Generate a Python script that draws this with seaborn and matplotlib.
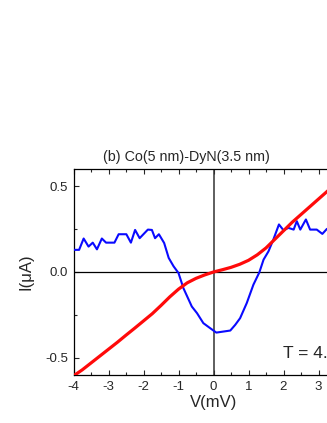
import matplotlib
matplotlib.use("Agg")
import matplotlib.pyplot as plt
import seaborn as sns
import pandas as pd
from matplotlib.ticker import MultipleLocator

# Red I-V curve
red_v = [-4.0, -3.75, -3.5, -3.25, -3.0, -2.75, -2.5, -2.25, -2.0, -1.75, -1.5, -1.25,
         -1.0, -0.75, -0.5, -0.25, 0.0, 0.25, 0.5, 0.75, 1.0, 1.25, 1.5, 1.75, 2.0,
         2.25, 2.5, 2.75, 3.0, 3.25, 3.5, 3.75, 4.0]
red_i = [-0.605, -0.57, -0.53, -0.49, -0.45, -0.41, -0.368, -0.327, -0.285, -0.243, -0.195, -0.145,
         -0.10, -0.063, -0.037, -0.017, 0.0, 0.013, 0.027, 0.045, 0.068, 0.10, 0.14, 0.19, 0.24,
         0.29, 0.335, 0.38, 0.425, 0.47, 0.515, 0.56, 0.605]

# Blue curve
blue_v = [-4.0, -3.84, -3.71, -3.57, -3.45, -3.33, -3.19, -3.07, -2.83, -2.71, -2.49, -2.36,
          -2.24, -2.11, -1.875, -1.76, -1.67, -1.56, -1.41, -1.28, -1.14, -1.0, -0.86, -0.62,
          -0.47, -0.29, -0.09, 0.08, 0.48, 0.62, 0.76, 0.95, 1.14, 1.31, 1.43, 1.57, 1.71,
          1.87, 2.0, 2.14, 2.29, 2.38, 2.48, 2.64, 2.76, 2.95, 3.11, 3.24, 3.4]
blue_i = [0.129, 0.129, 0.195, 0.148, 0.171, 0.132, 0.195, 0.171, 0.171, 0.22, 0.22, 0.171,
          0.245, 0.197, 0.247, 0.245, 0.197, 0.22, 0.169, 0.082, 0.033, -0.006, -0.094, -0.201,
          -0.24, -0.298, -0.328, -0.353, -0.341, -0.308, -0.269, -0.181, -0.074, -0.002, 0.072, 0.12, 0.189,
          0.277, 0.243, 0.257, 0.247, 0.296, 0.247, 0.306, 0.247, 0.247, 0.222, 0.251, 0.24]

x_tick_labels = ["-4", "-3", "-2", "-1", "0", "1", "2", "3", ""]
title = "(b) Co(5 nm)-DyN(3.5 nm)"
temp_label = "T = 4."

sns.set_style("ticks")
plt.rcParams['font.family'] = ['Liberation Sans', 'DejaVu Sans']
plt.rcParams['axes.unicode_minus'] = False

fig = plt.figure(figsize=(3.27, 4.23), dpi=100)
ax = fig.add_axes([73.5 / 327, 48 / 423, 280 / 327, 206 / 423])

red_df = pd.DataFrame({"V": red_v, "I": red_i})
blue_df = pd.DataFrame({"V": blue_v, "I": blue_i})

ax.axhline(0, color="black", lw=0.9, zorder=1)
ax.axvline(0, color="#333333", lw=1.1, zorder=1)
sns.lineplot(data=blue_df, x="V", y="I", ax=ax, color="#0a0aff", lw=1.5, sort=False, zorder=3)
sns.lineplot(data=red_df, x="V", y="I", ax=ax, color="#ff0a0a", lw=2.3, sort=False, zorder=4)

ax.set_xlim(-4, 4)
ax.set_ylim(-0.6, 0.6)
ax.set_xticks(range(-4, 5))
ax.set_xticklabels(x_tick_labels)
ax.xaxis.set_minor_locator(MultipleLocator(0.5))
ax.yaxis.set_major_locator(MultipleLocator(0.5))
ax.yaxis.set_minor_locator(MultipleLocator(0.25))
ax.tick_params(which="both", direction="in", top=True, right=True, labelsize=9.5, width=0.8, pad=4)
ax.tick_params(which="major", length=3.5)
ax.tick_params(which="minor", length=2.5)
for s in ax.spines.values():
    s.set_linewidth(0.9)
    s.set_color("black")

ax.set_xlabel("V(mV)", fontsize=12, labelpad=2)
ax.set_ylabel("I(\u03bcA)", fontsize=12, labelpad=8)
ax.text(1.98, -0.50, temp_label, fontsize=12.5, va="baseline", ha="left")
fig.text(186 / 327, 1 - 157 / 423, title, fontsize=10.3, ha="center", va="center")

fig.savefig("out.png", dpi=100)
